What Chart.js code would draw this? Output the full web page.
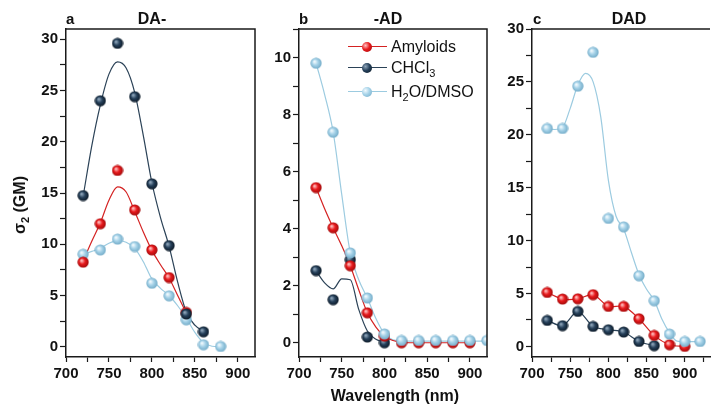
<!DOCTYPE html>
<html lang="en">
<head>
<meta charset="UTF-8">
<title>Two-photon cross sections</title>
<script src="https://cdn.jsdelivr.net/npm/chart.js"></script>
<style>
  body { margin: 0; background: #fff; font-family: "Liberation Sans", Arial, sans-serif; }
  #wrap { position: relative; width: 717px; height: 405px; overflow: hidden; }
  #wrap canvas { position: absolute; top: 0; }
  .lbl { position: absolute; font-weight: bold; font-size: 16px; color: #111; line-height: 1; white-space: nowrap; }
  .ytitle { left: 20px; top: 205px; transform: translate(-50%, -50%) rotate(-90deg); }
  .leg { position: absolute; left: 348px; width: 39px; height: 0; }
  .leg .ln { position: absolute; left: 0; top: -0.6px; width: 39px; border-top: 1.2px solid; }
  .leg .mk { position: absolute; left: 14px; top: -5px; width: 10px; height: 10px; border-radius: 50%; }
  .legtxt { position: absolute; left: 391px; font-size: 16px; color: #111; line-height: 1; white-space: nowrap; }
  sub { font-size: 11px; vertical-align: -4px; line-height: 0; }
</style>
</head>
<body>
<div id="wrap">
  <canvas id="chartA" width="262" height="405" style="left:0"></canvas>
  <canvas id="chartB" width="232" height="405" style="left:262px"></canvas>
  <canvas id="chartC" width="223" height="405" style="left:494px"></canvas>

  <div class="lbl" style="left:66px; top:11px; font-size:15px">a</div>
  <div class="lbl" style="left:152px; top:11px; transform:translateX(-50%)">DA-</div>
  <div class="lbl" style="left:299px; top:11px; font-size:15px">b</div>
  <div class="lbl" style="left:388px; top:11px; transform:translateX(-50%)">-AD</div>
  <div class="lbl" style="left:533px; top:11px; font-size:15px">c</div>
  <div class="lbl" style="left:629px; top:11px; transform:translateX(-50%)">DAD</div>

  <div class="lbl ytitle">σ<sub>2</sub> (GM)</div>
  <div class="lbl" style="left:395px; top:388px; transform:translateX(-50%)">Wavelength (nm)</div>

  <div class="leg" style="top:47px"><div class="ln" style="border-color:#d42222"></div><div class="mk" style="background:radial-gradient(circle at 35% 35%, #ffc0c0 0%, #e8191c 45%, #9a0a0a 100%)"></div></div>
  <div class="legtxt" style="top:39px">Amyloids</div>
  <div class="leg" style="top:68px"><div class="ln" style="border-color:#2b4257"></div><div class="mk" style="background:radial-gradient(circle at 35% 35%, #8fa6bb 0%, #25405a 45%, #0a1622 100%)"></div></div>
  <div class="legtxt" style="top:60px">CHCl<sub>3</sub></div>
  <div class="leg" style="top:92px"><div class="ln" style="border-color:#9ccbe0"></div><div class="mk" style="background:radial-gradient(circle at 35% 35%, #f2fafe 0%, #a5d2e8 45%, #6ea8c5 100%)"></div></div>
  <div class="legtxt" style="top:84px">H<sub>2</sub>O/DMSO</div>
</div>

<script>
// measured wavelengths (nm)
const wavelengths = [720, 740, 760, 780, 800, 820, 840, 860, 880, 900, 920];
const fitWavelengths = [720, 730, 740, 750, 760, 770, 780, 790, 800, 810, 820, 830, 840, 850, 860, 870, 880, 890, 900, 910, 920];

// panel a: DA-
const aAmyloids = [8.25, 12.0, 17.2, 13.35, 9.45, 6.75, 3.35];
const aChcl3 = [14.75, 24.0, 29.6, 24.4, 15.9, 9.87, 3.2, 1.46];
const aWater = [9.03, 9.45, 10.5, 9.78, 6.2, 4.97, 2.63, 0.2, 0.03];
const aFitAmyloids = [8.4, 10.3, 12.1, 14.3, 15.6, 15.1, 13.2, 11.2, 9.4, 8.0, 6.7, 5.0, 3.3];
const aFitChcl3 = [14.7, 19.6, 23.6, 26.6, 27.8, 27.2, 24.8, 20.6, 16.0, 12.6, 9.8, 6.3, 3.4, 2.1, 1.5];
const aFitWater = [9.0, 9.3, 9.6, 10.1, 10.35, 10.2, 9.6, 8.3, 6.6, 5.7, 5.0, 4.0, 2.8, 1.4, 0.4, 0.05, 0.0];

// panel b: -AD
const bAmyloids = [5.44, 4.03, 2.7, 1.05, 0.23, 0.0, 0.0, 0.0, 0.0, 0.0];
const bChcl3 = [2.53, 1.51, 2.91, 0.2, 0.0];
const bWater = [9.8, 7.38, 3.15, 1.57, 0.31, 0.08, 0.08, 0.08, 0.08, 0.08, 0.08];
const bFitAmyloids = [5.44, 4.7, 4.03, 3.4, 2.7, 1.85, 1.05, 0.55, 0.22, 0.08, 0.02, 0.0, 0.0, 0.0, 0.0, 0.0, 0.0, 0.0, 0.0];
const bFitChcl3 = [2.52, 2.1, 1.89, 2.24, 2.21, 1.16, 0.41, 0.12, 0.02];
const bFitWater = [9.8, 8.7, 7.38, 5.2, 3.15, 2.2, 1.57, 0.85, 0.31, 0.1, 0.07, 0.06, 0.06, 0.06, 0.06, 0.06, 0.06, 0.06, 0.06, 0.06, 0.06];

// panel c: DAD
const cAmyloids = [5.1, 4.48, 4.5, 4.89, 3.78, 3.78, 2.62, 1.04, 0.16, 0.0];
const cChcl3 = [2.46, 1.96, 3.31, 1.89, 1.58, 1.36, 0.47, 0.07];
const cWater = [20.6, 20.6, 24.6, 27.8, 12.1, 11.3, 6.68, 4.32, 1.17, 0.47, 0.47];
const cFitWater = [20.6, 20.5, 20.7, 22.5, 24.7, 25.8, 25.0, 21.7, 15.7, 12.3, 11.1, 8.9, 6.8, 5.4, 4.35, 2.6, 1.3, 0.5, 0.45, 0.45, 0.45];

const FONT = '"Liberation Sans", Arial, sans-serif';
const colors = {
  red:  { line: '#d42222', hi: '#ffc0c0', mid: '#e8191c', lo: '#9a0a0a' },
  navy: { line: '#2b4257', hi: '#8fa6bb', mid: '#25405a', lo: '#0a1622' },
  blue: { line: '#9ccbe0', hi: '#f2fafe', mid: '#a5d2e8', lo: '#6ea8c5' }
};

// little shaded ball used as point style
function sphere(c) {
  const cv = document.createElement('canvas');
  cv.width = 12; cv.height = 12;
  const g = cv.getContext('2d');
  const grad = g.createRadialGradient(4.3, 4.3, 0.5, 6, 6, 6);
  grad.addColorStop(0, c.hi);
  grad.addColorStop(0.45, c.mid);
  grad.addColorStop(1, c.lo);
  g.fillStyle = grad;
  g.beginPath(); g.arc(6, 6, 5.6, 0, Math.PI * 2); g.fill();
  return cv;
}
const balls = { red: sphere(colors.red), navy: sphere(colors.navy), blue: sphere(colors.blue) };

function xy(xs, ys) {
  return ys.map((y, i) => ({ x: xs[i], y: y }));
}

function curve(xs, ys, col, tension) {
  return {
    data: xy(xs, ys), showLine: true, borderColor: colors[col].line, borderWidth: 1.2,
    pointRadius: 0, fill: false, order: 5,
    cubicInterpolationMode: tension ? 'default' : 'monotone', tension: tension || 0
  };
}
function dots(ys, col, order) {
  return { data: xy(wavelengths, ys), showLine: false, pointStyle: balls[col], pointRadius: 6, order: order };
}

const framePlugin = {
  id: 'frame',
  afterDraw(chart, args, o) {
    const { ctx, chartArea: a } = chart;
    ctx.save();
    ctx.strokeStyle = '#1a1a1a';
    ctx.lineWidth = 1.5;
    ctx.beginPath();
    ctx.moveTo(a.left, a.top); ctx.lineTo(a.right + (o.right ? 0.75 : 0), a.top);
    if (o.right) { ctx.moveTo(a.right, a.top); ctx.lineTo(a.right, a.bottom); }
    ctx.stroke();
    ctx.restore();
  }
};

function makePanel(id, datasets, p) {
  new Chart(document.getElementById(id), {
    type: 'scatter',
    data: { datasets: datasets },
    plugins: [framePlugin],
    options: {
      responsive: false,
      animation: false,
      events: [],
      layout: { padding: { top: 29, bottom: 25, right: p.padRight, left: 0 } },
      plugins: { legend: { display: false }, tooltip: { enabled: false }, frame: { right: p.right } },
      scales: {
        x: {
          type: 'linear', min: 700, max: p.xMax,
          ticks: {
            stepSize: 25, includeBounds: false, autoSkip: false, maxRotation: 0, padding: 3,
            color: '#111', font: { family: FONT, size: 15, weight: 'bold' },
            callback: v => (v % 50 === 0 ? v : '')
          },
          grid: { drawOnChartArea: false, tickLength: 5, color: '#1a1a1a', tickWidth: 1.2 },
          border: { color: '#1a1a1a', width: 1.5 },
          afterFit: s => { s.height = 23; }
        },
        y: {
          min: p.yMin, max: p.yMax,
          ticks: {
            stepSize: p.yStep, includeBounds: false, padding: 2,
            color: '#111', font: { family: FONT, size: 15, weight: 'bold' },
            callback: v => (Math.abs(v / p.yMajor - Math.round(v / p.yMajor)) < 1e-6 ? v : '')
          },
          grid: { drawOnChartArea: false, tickLength: 6, color: '#1a1a1a', tickWidth: 1.2 },
          border: { color: '#1a1a1a', width: 1.5 },
          afterFit: s => { s.width = p.yWidth; }
        }
      }
    }
  });
}

makePanel('chartA', [
  curve(fitWavelengths, aFitChcl3, 'navy'),
  curve(fitWavelengths, aFitAmyloids, 'red'),
  curve(fitWavelengths, aFitWater, 'blue'),
  dots(aChcl3, 'navy', 1),
  dots(aAmyloids, 'red', 2),
  dots(aWater, 'blue', 3)
], { xMax: 920, yMin: -1, yMax: 31, yStep: 2.5, yMajor: 5, yWidth: 66, padRight: 4, right: true });

makePanel('chartB', [
  curve(fitWavelengths, bFitChcl3, 'navy'),
  curve(fitWavelengths, bFitAmyloids, 'red'),
  curve(fitWavelengths, bFitWater, 'blue'),
  dots(bChcl3, 'navy', 2),
  dots(bAmyloids, 'red', 1),
  dots(bWater, 'blue', 0)
], { xMax: 920, yMin: -0.5, yMax: 11, yStep: 1, yMajor: 2, yWidth: 37, padRight: 3, right: true });

makePanel('chartC', [
  curve(wavelengths, cChcl3, 'navy', 0.3),
  curve(wavelengths, cAmyloids, 'red', 0.3),
  curve(fitWavelengths, cFitWater, 'blue'),
  dots(cChcl3, 'navy', 2),
  dots(cAmyloids, 'red', 1),
  dots(cWater, 'blue', 0)
], { xMax: 933, yMin: -1, yMax: 30, yStep: 2.5, yMajor: 5, yWidth: 38, padRight: 0, right: false });
</script>
</body>
</html>
